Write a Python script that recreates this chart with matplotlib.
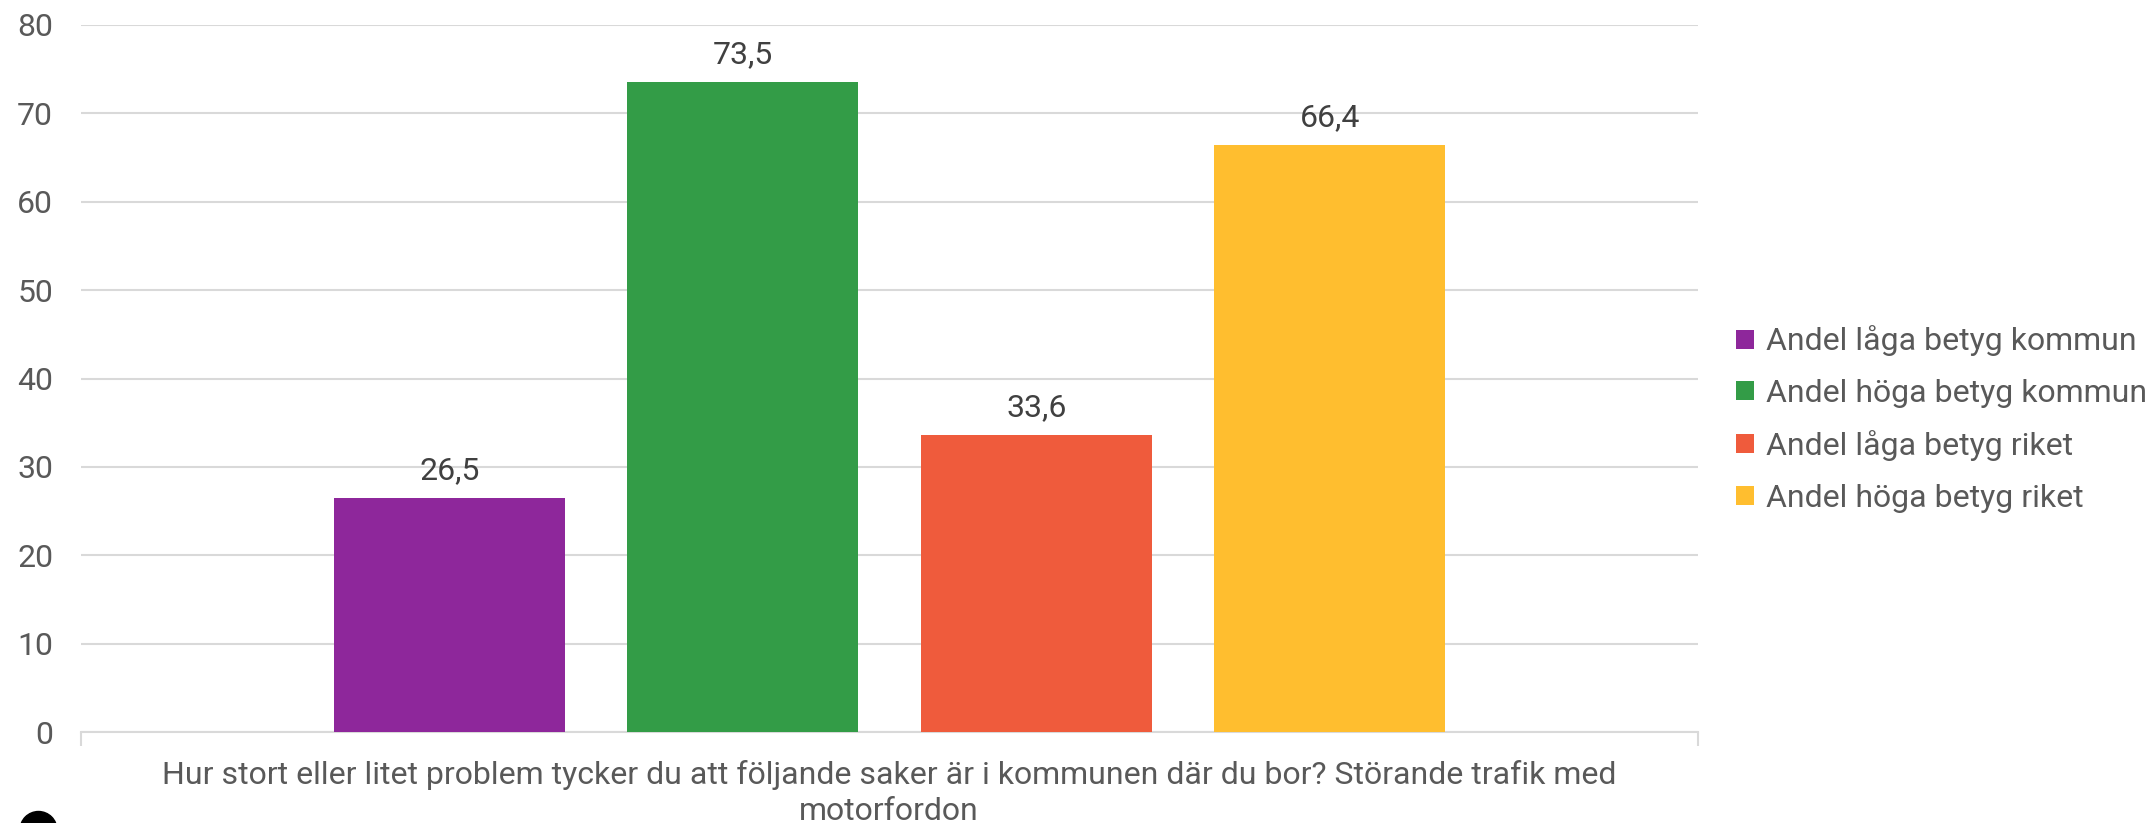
import matplotlib.pyplot as plt
from matplotlib.patches import Circle

plt.rcParams['font.family'] = ['Roboto', 'DejaVu Sans']

series = ['Andel låga betyg kommun', 'Andel höga betyg kommun',
          'Andel låga betyg riket', 'Andel höga betyg riket']
values = [26.5, 73.5, 33.6, 66.4]
colors = ['#8e279b', '#339c47', '#ef5b3c', '#ffbe2f']
category = ('Hur stort eller litet problem tycker du att följande saker är i kommunen där du bor? '
            'Störande trafik med\nmotorfordon')
yticks = [0, 10, 20, 30, 40, 50, 60, 70, 80]

text_col = '#595959'
grid_col = '#d9d9d9'
fs = 23

fig = plt.figure(figsize=(21.54, 8.23), dpi=100)
ax = fig.add_axes([81 / 2154, 1 - 732 / 823, 1617 / 2154, 707 / 823])

width = 0.143
step = 0.1815
for i, (name, v, c) in enumerate(zip(series, values, colors)):
    x = (i - 1.5) * step
    ax.bar(x, v, width=width, color=c, label=name, zorder=3)
    ax.text(x, v + 2.15, f'{v:.1f}'.replace('.', ','), ha='center', va='baseline',
            fontsize=fs, color='#404040')

ax.set_xlim(-0.5, 0.5)
ax.set_ylim(0, 80)
ax.set_yticks(yticks)
ax.set_yticklabels([str(t) for t in yticks], fontsize=fs, color=text_col)
ax.tick_params(axis='y', length=0, pad=20)
ax.set_xticks([-0.5, 0.5])
ax.set_xticklabels(['', ''])
ax.tick_params(axis='x', length=10, width=1.5, color=grid_col)
ax.yaxis.grid(True, color=grid_col, linewidth=1.5, zorder=0)
for s in ['top', 'right', 'left']:
    ax.spines[s].set_visible(False)
ax.spines['bottom'].set_color(grid_col)
ax.spines['bottom'].set_linewidth(1.5)

fig.text(889 / 2154, 1 - 793 / 823, category, ha='center', va='center',
         fontsize=fs, color=text_col, linespacing=1.32)

leg = ax.legend(loc='center left', bbox_to_anchor=(1736 / 2154, 1 - 419 / 823),
                bbox_transform=fig.transFigure, frameon=False,
                fontsize=fs, labelcolor=text_col, handlelength=0.55, handleheight=0.55,
                handletextpad=0.4, labelspacing=0.7, borderaxespad=0, borderpad=0)

# round black marker in the lower left corner, partly cut by the edge
fig.patches.append(Circle((0.385, -0.07), 0.185, transform=fig.dpi_scale_trans,
                          color='black', clip_on=False))

fig.savefig('out.png', dpi=100)
